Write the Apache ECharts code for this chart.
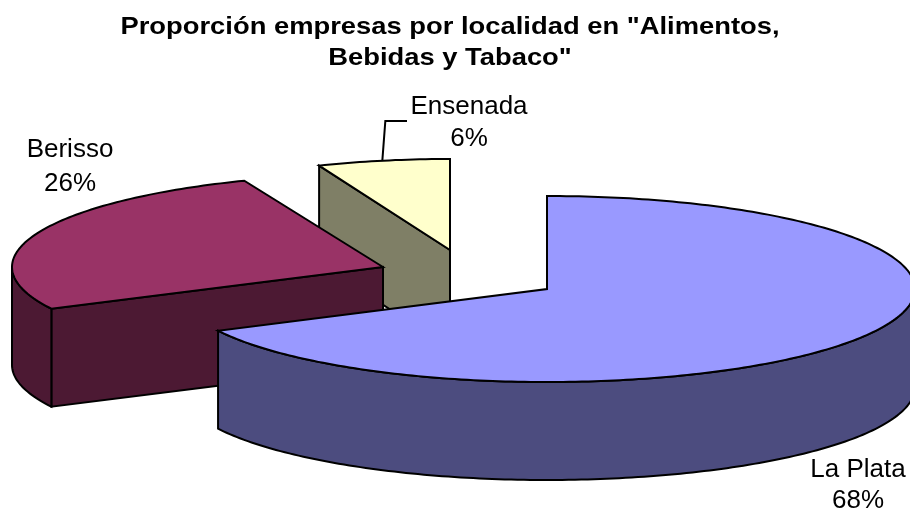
<!DOCTYPE html>
<html>
<head>
<meta charset="utf-8">
<style>html,body{margin:0;padding:0;background:#fff}#c{width:910px;height:508px;filter:blur(0.4px)}</style>
<script src="https://cdn.jsdelivr.net/npm/echarts@6/dist/echarts.min.js"></script>
</head>
<body>
<div id="c"></div>
<script>
// Data, clockwise from 12 o'clock
const categories = ['La Plata', 'Berisso', 'Ensenada'];
const shares = [67.6, 26.3, 6.1];
const titleText = 'Proporción empresas por localidad en "Alimentos,\nBebidas y Tabaco"';

// Styles and layout
const topColors = ['#9999FF', '#993366', '#FFFFCC'];
const sideColors = ['#4C4C7F', '#4C1933', '#7F7F66'];
const apexes = [[547, 289], [383, 267], [450, 250]];
const radiiX = [368, 371, 350];
const radiiY = [93, 93, 91];
const depth = 98;
const labelCenters = [[858, 485], [70, 166.5], [469, 122.5]];
const labelLineHeights = [31, 34, 32];
const leaderY = 121;
const FONT = '"Liberation Sans", Arial, sans-serif';

const total = shares.reduce((a, b) => a + b, 0);
const RAD = Math.PI / 180;

function rim(i, deg, drop) {
  return [
    apexes[i][0] + radiiX[i] * Math.sin(deg * RAD),
    apexes[i][1] - radiiY[i] * Math.cos(deg * RAD) + (drop || 0)
  ];
}
function arc(i, a, b, drop) {
  const pts = [];
  const n = Math.max(2, Math.ceil(Math.abs(b - a)));
  for (let k = 0; k <= n; k++) pts.push(rim(i, a + (b - a) * k / n, drop));
  return pts;
}
function poly(points, fill) {
  return {
    type: 'polygon', shape: { points },
    style: { fill, stroke: '#000', lineWidth: 2, lineJoin: 'miter' }
  };
}

const spans = [];
shares.reduce((acc, v) => { const s = acc + v / total * 360; spans.push([acc, s]); return s; }, 0);

function renderSlice(params, api) {
  const i = api.value(0);
  const [t0, t1] = spans[i];
  const [ax, ay] = apexes[i];
  const children = [];
  const cut = (deg) => {
    const r = rim(i, deg);
    return poly([[ax, ay], r, [r[0], r[1] + depth], [ax, ay + depth]], sideColors[i]);
  };
  // a cut wall faces the viewer when its outward normal points down the screen
  if (-Math.cos((t0 - 90) * RAD) > 1e-6) children.push(cut(t0));
  if (-Math.cos((t1 + 90) * RAD) > 1e-6) children.push(cut(t1));
  const fa = Math.max(t0, 90), fb = Math.min(t1, 270);
  if (fb > fa) {
    children.push(poly(arc(i, fa, fb, 0).concat(arc(i, fb, fa, depth)), sideColors[i]));
  }
  children.push(poly([[ax, ay]].concat(arc(i, t0, t1, 0)), topColors[i]));
  // label
  children.push({
    type: 'text',
    style: {
      text: categories[i] + '\n' + Math.round(api.value(1)) + '%',
      x: labelCenters[i][0], y: labelCenters[i][1],
      align: 'center', verticalAlign: 'middle',
      font: '26px ' + FONT, lineHeight: labelLineHeights[i], fill: '#000'
    }
  });
  // leader line of the narrow slice
  if (i === 2) {
    const p = rim(i, (t0 + t1) / 2);
    children.push({
      type: 'polyline',
      shape: { points: [[labelCenters[i][0] - 62, leaderY], [p[0] + 2, leaderY], [p[0] - 1, p[1]]] },
      style: { fill: 'none', stroke: '#000', lineWidth: 2 }
    });
  }
  return { type: 'group', children };
}

const chart = echarts.init(document.getElementById('c'), null, { renderer: 'canvas' });
chart.setOption({
  backgroundColor: '#fff',
  animation: false,
  graphic: [{
    type: 'text', x: 450, y: 43, scaleX: 1.14,
    style: {
      text: titleText, align: 'center', verticalAlign: 'middle',
      font: 'bold 24px ' + FONT, lineHeight: 31, fill: '#000'
    }
  }],
  series: [{
    type: 'custom',
    coordinateSystem: 'none',
    silent: true,
    renderItem: renderSlice,
    // painted back to front: the narrow slice first
    data: categories.map((c, i) => ({ name: c, value: [i, shares[i]] })).reverse()
  }]
});
</script>
</body>
</html>
